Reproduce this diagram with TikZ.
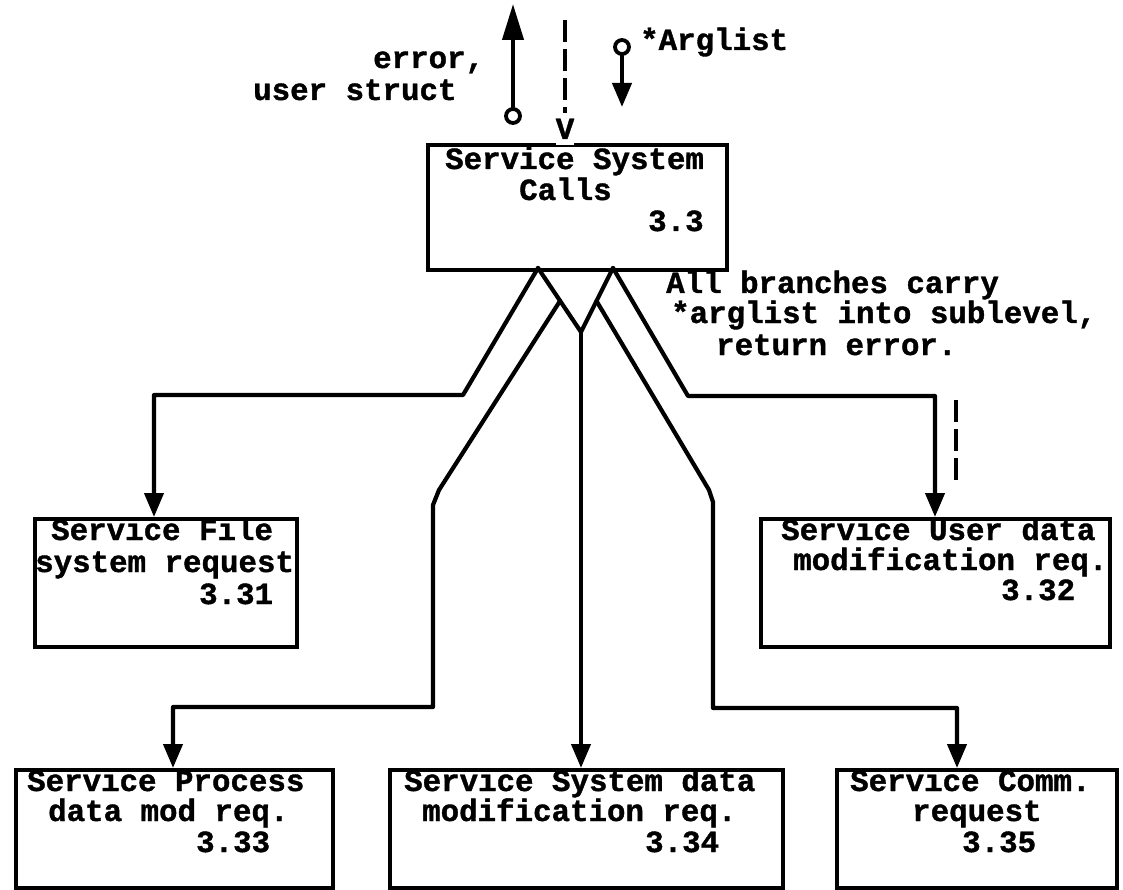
\documentclass[tikz,border=0pt]{standalone}
\usepackage{fontspec}
\newfontfamily\typew{Liberation Mono}[BoldFeatures={FakeBold=1.2}]
\usetikzlibrary{arrows.meta}
\begin{document}
\begin{tikzpicture}[x=1pt,y=-1pt,
  box/.style={draw, line width=3.8pt, rectangle, anchor=north west, inner sep=0pt},
  lbl/.style={font=\typew\bfseries\fontsize{30.8}{31}\selectfont, inner sep=0pt, anchor=base west},
  wire/.style={line width=4.2pt, line join=round, line cap=round},
  arr/.style={wire, -{Triangle[length=24pt,width=19pt]}},
  dashline/.style={line width=3.6pt, dash pattern=on 22pt off 7pt},
  port/.style={circle, draw, line width=3.8pt, minimum size=14pt, inner sep=0pt}]
\useasboundingbox (0,0) rectangle (1123,890);

% process boxes
\node[box, minimum width=299pt, minimum height=125pt] (sc)  at (426,143) {};
\node[box, minimum width=262pt, minimum height=128pt] (b31) at (33,517) {};
\node[box, minimum width=349pt, minimum height=128pt] (b32) at (759,517) {};
\node[box, minimum width=317pt, minimum height=118pt] (b33) at (14,768) {};
\node[box, minimum width=393pt, minimum height=118pt] (b34) at (388,768) {};
\node[box, minimum width=280pt, minimum height=118pt] (b35) at (835,768) {};

% box texts
\node[lbl] (sc1) at (445,169) {Service System};
\node[lbl] (sc2) at (519,200) {Calls};
\node[lbl] (sc3) at (648,231) {3.3};

\node[lbl] (t31a) at (51,540) {Service File};
\node[lbl] (t31b) at (35,572) {system request};
\node[lbl] (t31c) at (199,604) {3.31};

\node[lbl] (t32a) at (781,540) {Service User data};
\node[lbl] (t32b) at (793,570) {modification req.};
\node[lbl] (t32c) at (1001,600) {3.32};

\node[lbl] (t33a) at (27,791) {Service Process};
\node[lbl] (t33b) at (48,821) {data mod req.};
\node[lbl] (t33c) at (196,852) {3.33};

\node[lbl] (t34a) at (404,791) {Service System data};
\node[lbl] (t34b) at (422,821) {modification req.};
\node[lbl] (t34c) at (645,852) {3.34};

\node[lbl] (t35a) at (850,791) {Service Comm.};
\node[lbl] (t35b) at (912,821) {request};
\node[lbl] (t35c) at (962,852) {3.35};

% control flow entering from above
\node[lbl, anchor=base, fill=white, inner xsep=0pt, inner ysep=6pt] (vee) at (565,139) {V};
\coordinate (dtop) at (565,20);
\draw[dashline] (dtop) -- (vee.north);

% data couples
\node[port] (errc) at (513,116) {};
\coordinate (errtip) at (513,4);
\draw[wire, -{Triangle[length=36pt,width=21pt]}] (errc.north) -- (errtip);
\node[port] (argc) at (622,47) {};
\coordinate (argtip) at (622,107);
\draw[arr] (argc.south) -- (argtip);

\node[lbl] (err1) at (373,68) {error,};
\node[lbl] (err2) at (253,100) {user struct};
\node[lbl] (argl) at (640,50) {*Arglist};

\node[lbl] (n1) at (666,293) {All branches carry};
\node[lbl] (n2) at (671,323) {*arglist into sublevel,};
\node[lbl] (n3) at (716,355) {return error.};

% branching connectors
\coordinate (fl) at (538,268);
\coordinate (fr) at (613,268);
\coordinate (vb) at (581,332);
\coordinate (li) at (560,301);
\coordinate (ri) at (596.5,301);

\coordinate (a31) at (154,517);
\coordinate (a32) at (935,517);
\coordinate (a33) at (173,768);
\coordinate (a34) at (581,768);
\coordinate (a35) at (957,768);

\coordinate (k1) at (463,395);
\coordinate (k2) at (688,396);
\coordinate (k3a) at (439,490);
\coordinate (k3b) at (433,505);
\coordinate (k3c) at (433,707);
\coordinate (k5a) at (709,490);
\coordinate (k5b) at (713,502);
\coordinate (k5c) at (713,708);

\draw[wire] (fl) -- (vb) -- (fr);
\draw[arr] (fl) -- (k1) -| (a31);
\draw[arr] (fr) -- (k2) -| (a32);
\draw[arr] (li) -- (k3a) -- (k3b) -- (k3c) -| (a33);
\draw[arr] (vb) -- (a34);
\draw[arr] (ri) -- (k5a) -- (k5b) -- (k5c) -| (a35);

% second (control) line beside the 3.32 branch
\coordinate (d1) at (956,400);
\coordinate (d2) at (956,486);
\draw[dashline] (d1) -- (d2);
\end{tikzpicture}
\end{document}
